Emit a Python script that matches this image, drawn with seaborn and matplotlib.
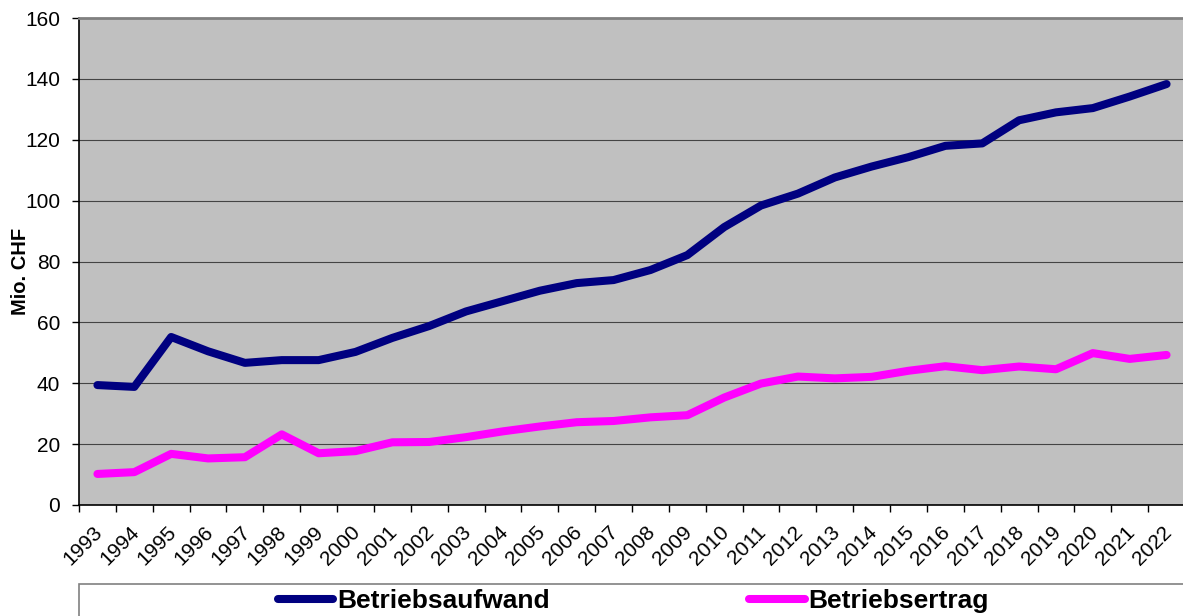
import matplotlib
matplotlib.use("Agg")
import matplotlib.pyplot as plt
import matplotlib.patches as mpatches
import matplotlib.transforms as mtransforms
import pandas as pd
import seaborn as sns

# Data (Mio. CHF)
years = list(range(1993, 2023))
aufwand = [39.4, 38.8, 55.2, 50.5, 46.7, 47.6, 47.6, 50.3, 54.9, 58.8,
           63.6, 67.0, 70.4, 72.9, 73.9, 77.2, 82.1, 91.3, 98.4, 102.3,
           107.6, 111.2, 114.3, 118.0, 118.8, 126.4, 129.0, 130.4, 134.2, 138.3]
ertrag = [10.2, 10.8, 16.8, 15.3, 15.7, 23.2, 17.0, 17.7, 20.6, 20.7,
          22.3, 24.2, 25.8, 27.2, 27.6, 28.8, 29.5, 35.3, 39.9, 42.2,
          41.6, 42.1, 44.1, 45.6, 44.3, 45.5, 44.6, 49.9, 48.0, 49.3]
series_names = ["Betriebsaufwand", "Betriebsertrag"]
colors = ["#000080", "#FF00FF"]

df = pd.DataFrame({
    "Jahr": years * 2,
    "Wert": aufwand + ertrag,
    "Serie": [series_names[0]] * len(years) + [series_names[1]] * len(years),
})

sns.set_style("white")
plt.rcParams["font.family"] = ["Liberation Sans", "DejaVu Sans"]
for key in ["text.color", "axes.labelcolor", "xtick.color", "ytick.color"]:
    plt.rcParams[key] = "black"

fig = plt.figure(figsize=(11.83, 6.16), dpi=100)
ax = fig.add_axes([79 / 1183, 1 - 505 / 616, 1106 / 1183, 487 / 616])
ax.set_facecolor("#C0C0C0")

sns.lineplot(data=df, x="Jahr", y="Wert", hue="Serie", palette=colors,
             linewidth=5.8, ax=ax, legend=False, zorder=3,
             solid_capstyle="round", solid_joinstyle="round")

ax.set_xlim(years[0] - 0.5, years[-1] + 0.5)
ax.set_ylim(0, 160)
ax.set_yticks(range(0, 161, 20))
ax.set_xticks(years)
ax.set_xticks([y + 0.5 for y in years[:-1]] + [years[0] - 0.5], minor=True)
ax.set_xticklabels([str(y) for y in years], rotation=45, ha="right",
                   va="center", rotation_mode="anchor", fontsize=15)
ax.tick_params(axis="x", which="major", length=0, pad=17.5)
ax.tick_params(axis="x", which="minor", length=5, width=1, color="black",
               direction="out", bottom=True)
ax.tick_params(axis="y", length=5, width=1, color="black", direction="out",
               left=True, labelsize=15, pad=8.6)
# shift year labels a touch right, like the original
shift = mtransforms.ScaledTranslation(2 / 100, 0, fig.dpi_scale_trans)
for lab in ax.get_xticklabels():
    lab.set_transform(lab.get_transform() + shift)

ax.grid(axis="y", color="#444444", linewidth=0.8, zorder=1)
ax.set_axisbelow(True)
for side in ["left", "bottom"]:
    ax.spines[side].set_color("black")
    ax.spines[side].set_linewidth(1.2)
ax.spines["top"].set_color("#808080")
ax.spines["top"].set_linewidth(2)
ax.spines["right"].set_visible(False)

ax.set_xlabel("")
ax.set_ylabel("Mio. CHF", fontsize=14.5, fontweight="bold")
ax.yaxis.set_label_coords(-0.044, 0.48)

# legend frame below the plot
fig.patches.append(mpatches.Rectangle((79 / 1183, -0.01), 1.0, (616 - 584) / 616 + 0.01,
                                      transform=fig.transFigure, facecolor="white",
                                      edgecolor="#808080", linewidth=1.2))
handles = [plt.Line2D([], [], color=c, linewidth=5.8, solid_capstyle="round")
           for c in colors]
fig.legend(handles, series_names, loc="center", bbox_to_anchor=(633.5 / 1183, 1 - 601 / 616),
           ncol=2, frameon=False, handlelength=2.1, handletextpad=0.15,
           columnspacing=7.55, prop={"weight": "bold", "size": 19})

fig.savefig("out.png", dpi=100)
